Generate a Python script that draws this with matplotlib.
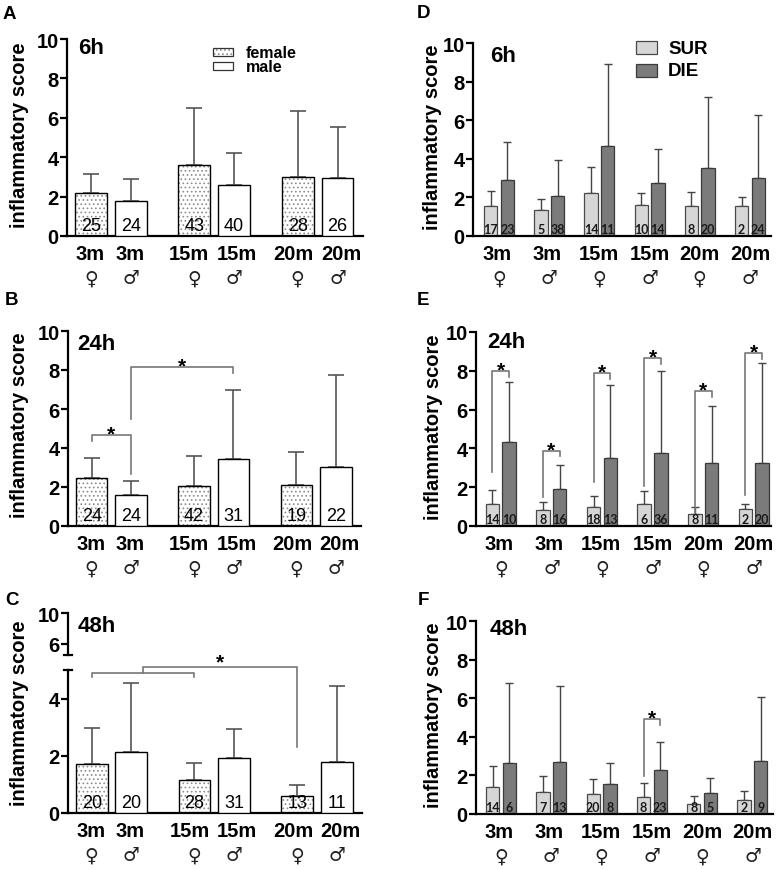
import numpy as np
import matplotlib
matplotlib.use("Agg")
import matplotlib.pyplot as plt
from matplotlib.patches import Rectangle
from matplotlib.lines import Line2D

# ---------------- data ----------------
ages = ['3m', '3m', '15m', '15m', '20m', '20m']
sexes = ['\u2640', '\u2642', '\u2640', '\u2642', '\u2640', '\u2642']
is_female = [True, False, True, False, True, False]

# panels A-C : by sex
a_mean = [2.17, 1.78, 3.62, 2.57, 2.98, 2.93]
a_sd = [0.99, 1.10, 2.88, 1.63, 3.37, 2.62]
a_n = [25, 24, 43, 40, 28, 26]

b_mean = [2.48, 1.57, 2.07, 3.42, 2.12, 3.04]
b_sd = [0.99, 0.74, 1.50, 3.54, 1.66, 4.69]
b_n = [24, 24, 42, 31, 19, 22]

c_mean = [1.71, 2.15, 1.14, 1.94, 0.60, 1.79]
c_sd = [1.25, 2.40, 0.61, 0.98, 0.39, 2.66]
c_n = [20, 20, 28, 31, 13, 11]

# panels D-F : survivors vs. died
d_sur = [1.56, 1.37, 2.25, 1.59, 1.54, 1.56]
d_sur_sd = [0.79, 0.55, 1.30, 0.66, 0.74, 0.44]
d_die = [2.91, 2.09, 4.67, 2.75, 3.51, 2.99]
d_die_sd = [1.95, 1.87, 4.24, 1.78, 3.70, 3.27]
d_sur_n = [17, 5, 14, 10, 8, 2]
d_die_n = [23, 38, 11, 14, 20, 24]

e_sur = [1.12, 0.82, 1.00, 1.15, 0.62, 0.88]
e_sur_sd = [0.74, 0.43, 0.56, 0.65, 0.34, 0.24]
e_die = [4.33, 1.91, 3.52, 3.76, 3.23, 3.25]
e_die_sd = [3.08, 1.22, 3.75, 4.23, 2.96, 5.13]
e_sur_n = [14, 8, 18, 6, 8, 2]
e_die_n = [10, 16, 13, 36, 11, 20]
e_sig_height = [7.97, 3.88, 7.87, 8.64, 6.94, 8.90]
e_sig_left_end = [2.78, 1.49, 2.27, 2.06, 0.69, 1.58]

f_sur = [1.38, 1.16, 1.03, 0.90, 0.53, 0.72]
f_sur_sd = [1.12, 0.81, 0.78, 0.70, 0.42, 0.45]
f_die = [2.66, 2.71, 1.57, 2.26, 1.10, 2.74]
f_die_sd = [4.13, 3.93, 1.09, 1.48, 0.78, 3.31]
f_sur_n = [14, 7, 20, 8, 8, 2]
f_die_n = [6, 13, 8, 23, 5, 9]

# ---------------- style ----------------
W, H = 778, 870
fig = plt.figure(figsize=(W / 100, H / 100), dpi=100)
BOLD = ['Liberation Sans', 'DejaVu Sans']
SYM = ['DejaVu Sans']
plt.rcParams['hatch.linewidth'] = 0.7

SPINE_W = 1.6
ERR_C = '#555555'
BR_C = '#777777'
SUR_C = '#d6d6d6'
DIE_C = '#7b7b7b'
HATCH_C = '#8c8c8c'
HATCH = '....'

pos6 = np.array([0, 1, 2.6, 3.6, 5.2, 6.2])
grp = np.arange(6)
OFF = 0.166
BW2 = 0.265
SEX_LABEL_NUDGE = [-1, -1, -5, 3, -4, 4]   # pixel nudges of x labels (A-C)
GRP_LABEL_NUDGE = [-2, -2, -1, 0, 0, 0]


def fig_axes(l, r, t, b):
    return fig.add_axes([l / W, 1 - b / H, (r - l) / W, (b - t) / H])


def px(x, y):
    return x / W, 1 - y / H


def style_axes(ax, xlim, ylim, yticks):
    ax.set_xlim(*xlim)
    ax.set_ylim(*ylim)
    for s in ['top', 'right']:
        ax.spines[s].set_visible(False)
    for s in ['left', 'bottom']:
        ax.spines[s].set_linewidth(SPINE_W)
    ax.set_yticks(yticks)
    ax.set_yticklabels([str(t) for t in yticks], fontfamily=BOLD,
                       fontweight='bold', fontsize=14.5)
    ax.tick_params(axis='y', length=5, width=SPINE_W, pad=1)
    ax.set_xticks([])
    ax.patch.set_alpha(0)


def xlabels(ax, xs, nudges):
    k = 72 / 100.0
    for x, a, s, d in zip(xs, ages, sexes, nudges):
        ax.annotate(a, xy=(x, 0), xycoords=('data', 'axes fraction'),
                    xytext=(d * k, -8 * k), textcoords='offset points',
                    ha='center', va='top', fontfamily=BOLD, fontweight='bold',
                    fontsize=14.5, annotation_clip=False)
        ax.annotate(s, xy=(x, 0), xycoords=('data', 'axes fraction'),
                    xytext=(0, -30), textcoords='offset points',
                    ha='center', va='center', fontfamily=SYM, fontsize=13.5,
                    color='#222222', annotation_clip=False)


def sex_bars(ax, mean, sd, n, capsize=5.5):
    fem = [i for i in range(6) if is_female[i]]
    mal = [i for i in range(6) if not is_female[i]]
    mean = np.array(mean)
    sd = np.array(sd)
    ax.errorbar(pos6, mean, yerr=[np.zeros(6), sd], fmt='none', ecolor=ERR_C,
                elinewidth=1.2, capsize=capsize, capthick=1.2, zorder=1)
    ax.bar(pos6[fem], mean[fem], 0.8, color='white', edgecolor=HATCH_C,
           hatch=HATCH, linewidth=0, zorder=2)
    ax.bar(pos6[fem], mean[fem], 0.8, color='none', edgecolor='black',
           linewidth=1.0, zorder=3)
    ax.bar(pos6[mal], mean[mal], 0.8, color='white', edgecolor='black',
           linewidth=1.0, zorder=3)
    for x, v in zip(pos6, n):
        ax.annotate(str(v), xy=(x, 0), xytext=(0, 1.5), textcoords='offset points',
                    ha='center', va='bottom', fontsize=13,
                    fontfamily=['Liberation Sans'], zorder=4)


def surv_bars(ax, sur, sur_sd, die, die_sd, sn, dn):
    ax.errorbar(grp - OFF, sur, yerr=[np.zeros(6), sur_sd], fmt='none',
                ecolor='#444444', elinewidth=1.0, capsize=2.8, capthick=1.0,
                zorder=1)
    ax.errorbar(grp + OFF, die, yerr=[np.zeros(6), die_sd], fmt='none',
                ecolor='#444444', elinewidth=1.0, capsize=2.8, capthick=1.0,
                zorder=1)
    ax.bar(grp - OFF, sur, BW2, color=SUR_C, edgecolor='#4a4a4a',
           linewidth=0.9, zorder=2)
    ax.bar(grp + OFF, die, BW2, color=DIE_C, edgecolor='#3a3a3a',
           linewidth=0.9, zorder=2)
    for x, v in zip(grp - OFF, sn):
        ax.annotate(str(v), xy=(x, 0), xytext=(0, 1.0), textcoords='offset points',
                    ha='center', va='bottom', fontsize=9, fontweight='bold',
                    fontfamily=['Lato', 'DejaVu Sans'], color='#1a1a1a', zorder=4)
    for x, v in zip(grp + OFF, dn):
        ax.annotate(str(v), xy=(x, 0), xytext=(0, 1.0), textcoords='offset points',
                    ha='center', va='bottom', fontsize=9, fontweight='bold',
                    fontfamily=['Lato', 'DejaVu Sans'], color='#1a1a1a', zorder=4)


def star(ax, x, y, dy=-3.2):
    ax.annotate('*', xy=(x, y), xytext=(0, dy), textcoords='offset points',
                ha='center', va='baseline', fontsize=15, fontweight='bold',
                fontfamily=BOLD, annotation_clip=False)


def bracket(ax, x1, x2, y, y1, y2):
    ax.plot([x1, x1, x2, x2], [y1, y, y, y2], color=BR_C, lw=1.2,
            clip_on=False, zorder=5)


def ylabel(x, y):
    fig.text(*px(x, y), 'inflammatory score', rotation=90, ha='center',
             va='center', fontfamily=BOLD, fontweight='bold', fontsize=14.5)


def panel_letter(txt, x, y):
    fig.text(*px(x, y - 3), txt, ha='left', va='top', fontfamily=BOLD,
             fontweight='bold', fontsize=13.5)


def time_label(txt, x, y):
    fig.text(*px(x, y - 4), txt, ha='left', va='top', fontfamily=BOLD,
             fontweight='bold', fontsize=16)


XL6 = (-0.6, 6.84)

# ---------------- Panel A ----------------
axA = fig_axes(67, 363, 40, 237)
style_axes(axA, XL6, (0, 10), [0, 2, 4, 6, 8, 10])
sex_bars(axA, a_mean, a_sd, a_n)
xlabels(axA, pos6, SEX_LABEL_NUDGE)

# legend A
fig.add_artist(Rectangle(px(213, 57), 20 / W, 8 / H, transform=fig.transFigure,
                         facecolor='white', edgecolor=HATCH_C, hatch=HATCH,
                         linewidth=0))
fig.add_artist(Rectangle(px(213, 57), 20 / W, 8 / H, transform=fig.transFigure,
                         facecolor='none', edgecolor='#333333', linewidth=0.9))
fig.add_artist(Rectangle(px(213, 71), 20 / W, 8 / H, transform=fig.transFigure,
                         facecolor='white', edgecolor='#333333', linewidth=0.9))
fig.text(*px(246, 54), 'female', ha='left', va='center', fontfamily=BOLD,
         fontweight='bold', fontsize=11.5)
fig.text(*px(246, 68), 'male', ha='left', va='center', fontfamily=BOLD,
         fontweight='bold', fontsize=11.5)

# ---------------- Panel B ----------------
axB = fig_axes(68, 361, 332, 527)
style_axes(axB, XL6, (0, 10), [0, 2, 4, 6, 8, 10])
sex_bars(axB, b_mean, b_sd, b_n)
xlabels(axB, pos6, SEX_LABEL_NUDGE)
bracket(axB, pos6[0], pos6[1], 4.65, 4.34, 2.68)
star(axB, (pos6[0] + pos6[1]) / 2, 4.65)
bracket(axB, pos6[1], pos6[3], 8.14, 5.5, 7.87)
star(axB, (pos6[1] + pos6[3]) / 2, 8.14)

# ---------------- Panel C (broken axis) ----------------
axCl = fig_axes(68, 362, 671, 814)
style_axes(axCl, XL6, (0, 5), [0, 2, 4])
sex_bars(axCl, c_mean, c_sd, c_n)
xlabels(axCl, pos6, SEX_LABEL_NUDGE)
axCu = fig_axes(68, 362, 614, 656)
style_axes(axCu, XL6, (4.58, 10), [6, 10])
axCu.spines['bottom'].set_visible(False)
# break caps
fig.add_artist(Line2D([64 / W, 72 / W], [1 - 656 / H, 1 - 656 / H],
                      transform=fig.transFigure, color='black', lw=SPINE_W))
fig.add_artist(Line2D([64 / W, 72 / W], [1 - 671 / H, 1 - 671 / H],
                      transform=fig.transFigure, color='black', lw=SPINE_W))
# significance C
mid_c = (pos6[0] + pos6[2]) / 2
bracket(axCl, pos6[0], pos6[2], 4.91, 4.77, 4.77)
bracket(axCl, mid_c, pos6[4], 5.11, 4.91, 2.31)
star(axCl, (mid_c + pos6[4]) / 2, 5.11, dy=-0.5)

# ---------------- Panel D ----------------
axD = fig_axes(473, 771, 44, 237)
style_axes(axD, (-0.52, 5.42), (0, 10), [0, 2, 4, 6, 8, 10])
surv_bars(axD, d_sur, d_sur_sd, d_die, d_die_sd, d_sur_n, d_die_n)
xlabels(axD, grp, GRP_LABEL_NUDGE)
fig.add_artist(Rectangle(px(636, 55), 21 / W, 13 / H, transform=fig.transFigure,
                         facecolor=SUR_C, edgecolor='#4a4a4a', linewidth=0.9))
fig.add_artist(Rectangle(px(636, 78), 21 / W, 13 / H, transform=fig.transFigure,
                         facecolor=DIE_C, edgecolor='#3a3a3a', linewidth=0.9))
fig.text(*px(668, 49), 'SUR', ha='left', va='center', fontfamily=BOLD,
         fontweight='bold', fontsize=13.5)
fig.text(*px(668, 71), 'DIE', ha='left', va='center', fontfamily=BOLD,
         fontweight='bold', fontsize=13.5)

# ---------------- Panel E ----------------
axE = fig_axes(476, 771, 333, 527)
style_axes(axE, (-0.49, 5.34), (0, 10), [0, 2, 4, 6, 8, 10])
surv_bars(axE, e_sur, e_sur_sd, e_die, e_die_sd, e_sur_n, e_die_n)
xlabels(axE, grp, GRP_LABEL_NUDGE)
for g, hgt, lend in zip(grp, e_sig_height, e_sig_left_end):
    bracket(axE, g - OFF, g + OFF, hgt, lend, hgt - 0.28)
    star(axE, g, hgt)

# ---------------- Panel F ----------------
axF = fig_axes(476, 773, 622, 815)
style_axes(axF, (-0.5, 5.41), (0, 10), [0, 2, 4, 6, 8, 10])
surv_bars(axF, f_sur, f_sur_sd, f_die, f_die_sd, f_sur_n, f_die_n)
xlabels(axF, grp, GRP_LABEL_NUDGE)
bracket(axF, 3 - OFF, 3 + OFF, 4.90, 1.98, 4.62)
star(axF, 3, 4.90)

# ---------------- labels ----------------
ylabel(20, 135)
ylabel(20, 425)
ylabel(20, 713)
ylabel(433, 137)
ylabel(434, 427)
ylabel(434, 715)

panel_letter('A', 3, 9)
panel_letter('B', 5, 295)
panel_letter('C', 5, 595)
panel_letter('D', 417, 8)
panel_letter('E', 417, 295)
panel_letter('F', 418, 595)

time_label('6h', 78, 42)
time_label('24h', 77, 338)
time_label('48h', 78, 620)
time_label('6h', 490, 50)
time_label('24h', 487, 336)
time_label('48h', 490, 623)

fig.savefig('out.png', dpi=100)
